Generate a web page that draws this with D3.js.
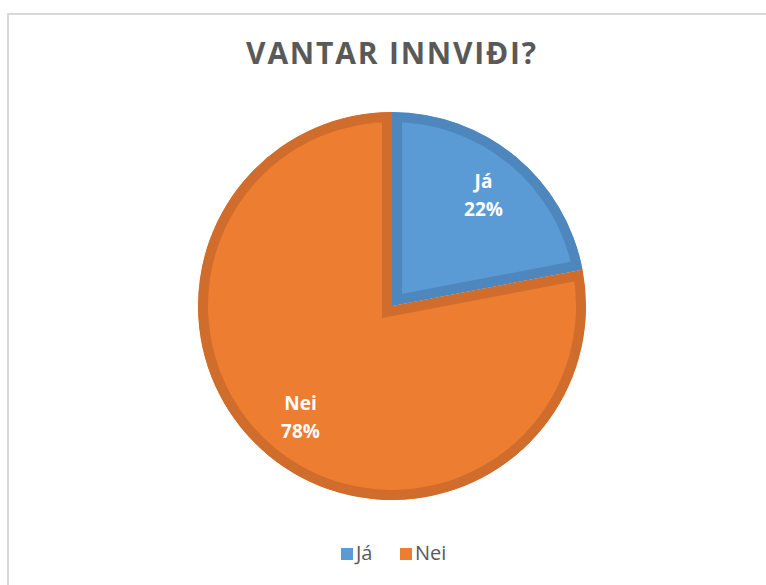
<!DOCTYPE html>
<html>
<head>
<meta charset="utf-8">
<script src="https://cdn.jsdelivr.net/npm/d3@7"></script>
<style>
  body { margin: 0; background: #fff; }
  svg { display: block; }
</style>
</head>
<body>
<svg id="chart" width="766" height="585"></svg>
<script>
var title = "VANTAR INNVIÐI?";
var labels = ["Já", "Nei"];
var values = [22, 78];
var fills = ["#5b9bd5", "#ed7d31"];
var edges = ["#4d87bd", "#d06d2c"];

var svg = d3.select("#chart");
var cx = 392, cy = 306, r = 194;

// chart frame (cut off at right/bottom like the reference)
svg.append("rect")
    .attr("x", 8).attr("y", 14)
    .attr("width", 800).attr("height", 620)
    .attr("fill", "none")
    .attr("stroke", "#d9d9d9")
    .attr("stroke-width", 2);

svg.append("text")
    .attr("x", cx).attr("y", 64)
    .attr("text-anchor", "middle")
    .attr("font-family", "Open Sans")
    .attr("font-weight", "bold")
    .attr("font-size", "30px")
    .attr("letter-spacing", "1.8px")
    .attr("fill", "#595959")
    .text(title);

var data = labels.map(function(l, i) {
    return {label: l, value: values[i], fill: fills[i], edge: edges[i]};
});

var pie = d3.pie().sort(null).value(function(d) { return d.value; });
var arc = d3.arc().innerRadius(0).outerRadius(r);
var labelArc = d3.arc().innerRadius(r * 0.74).outerRadius(r * 0.74);

var g = svg.append("g").attr("transform", "translate(" + cx + "," + cy + ")");
var defs = svg.append("defs");
var arcs = pie(data);

arcs.forEach(function(a, i) {
    defs.append("clipPath").attr("id", "clip" + i)
        .append("path").attr("d", arc(a));
});

// each slice gets a thick darker border drawn inside it
g.selectAll("path.slice")
    .data(arcs)
    .enter()
    .append("path")
    .attr("class", "slice")
    .attr("d", arc)
    .attr("fill", function(d) { return d.data.fill; })
    .attr("stroke", function(d) { return d.data.edge; })
    .attr("stroke-width", 20)
    .attr("clip-path", function(d, i) { return "url(#clip" + i + ")"; });

var lab = g.selectAll("text.lab")
    .data(arcs)
    .enter()
    .append("text")
    .attr("class", "lab")
    .attr("transform", function(d) { return "translate(" + labelArc.centroid(d) + ")"; })
    .attr("text-anchor", "middle")
    .attr("font-family", "Open Sans")
    .attr("font-weight", "bold")
    .attr("font-size", "19px")
    .attr("fill", "#ffffff");
lab.append("tspan").attr("x", 0).attr("y", -7).text(function(d) { return d.data.label; });
lab.append("tspan").attr("x", 0).attr("y", 21).text(function(d) { return d.data.value + "%"; });

// legend
var legend = svg.append("g").attr("transform", "translate(341,548)");
var lx = [0, 59];
data.forEach(function(d, i) {
    legend.append("rect")
        .attr("x", lx[i]).attr("y", 0)
        .attr("width", 12).attr("height", 12)
        .attr("fill", d.fill);
    legend.append("text")
        .attr("x", lx[i] + 15).attr("y", 12)
        .attr("font-family", "Open Sans")
        .attr("font-size", "20px")
        .attr("fill", "#595959")
        .text(d.label);
});
</script>
</body>
</html>
